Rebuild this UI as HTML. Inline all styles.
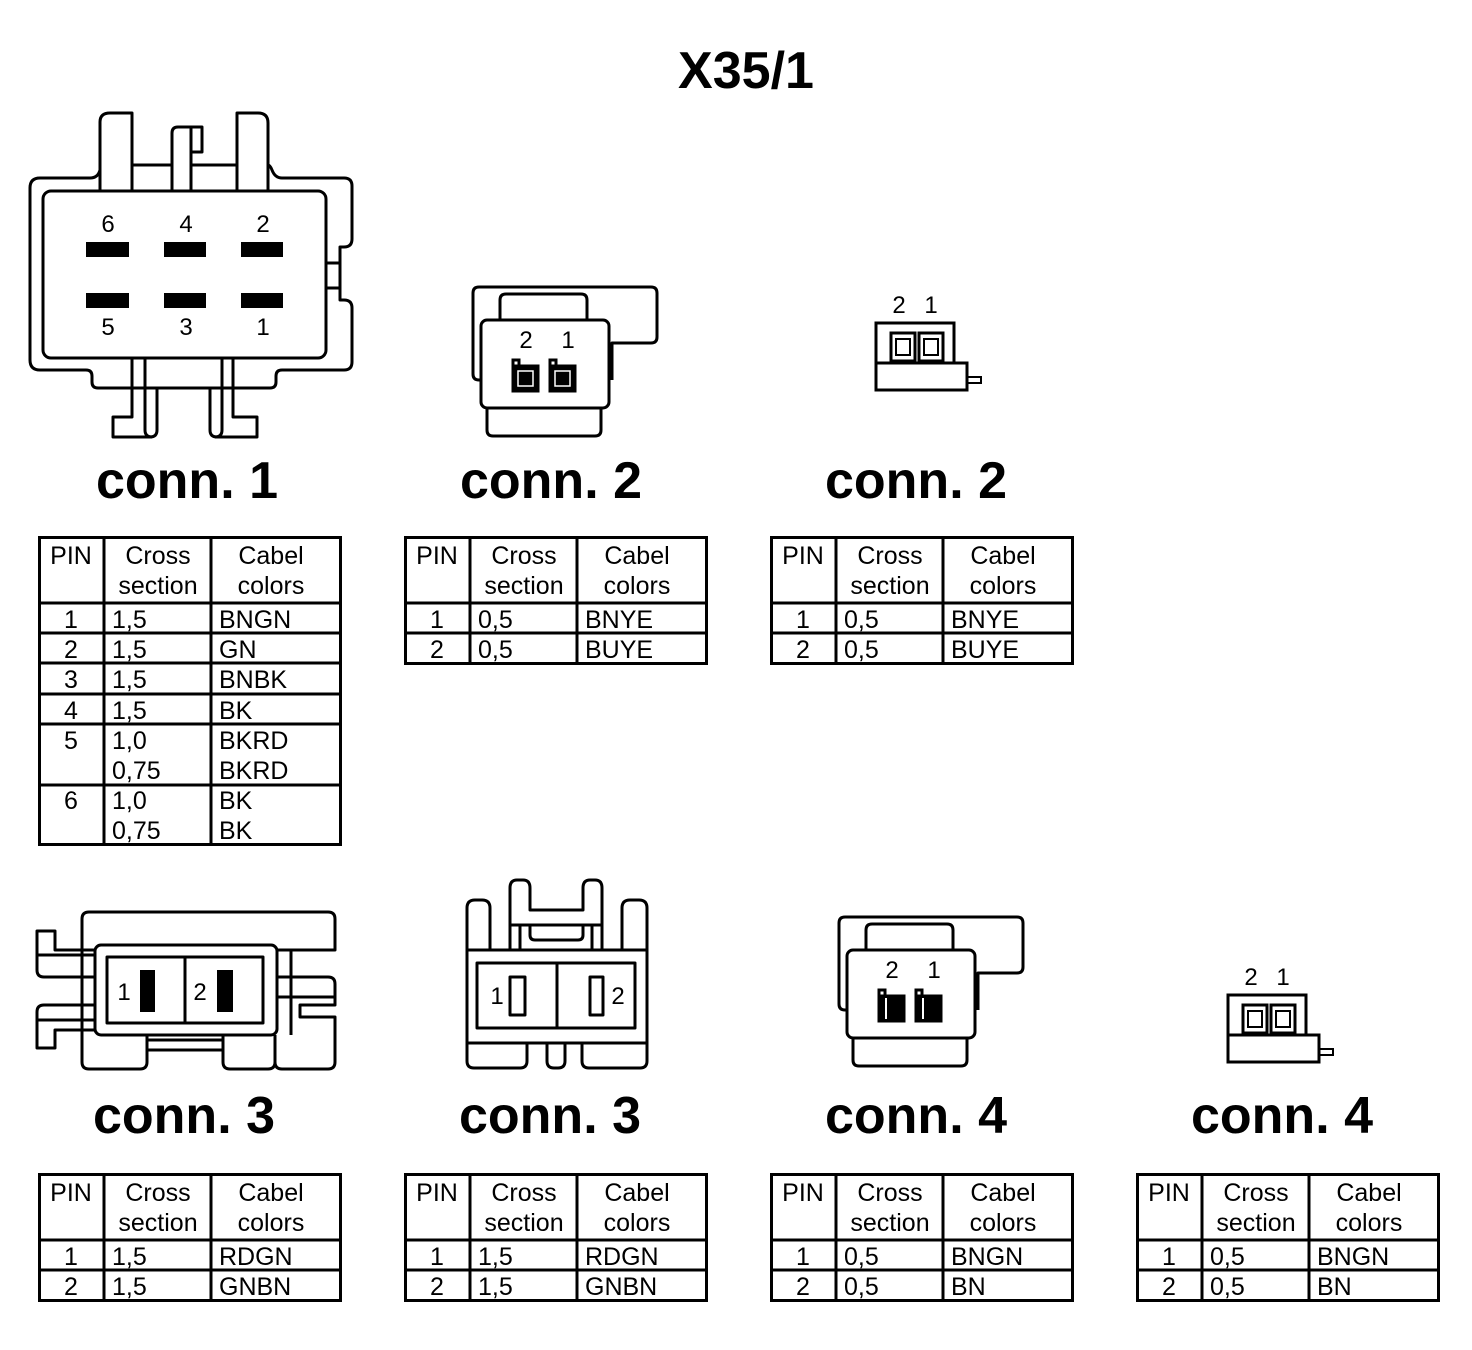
<!DOCTYPE html>
<html><head><meta charset="utf-8"><style>
html,body{margin:0;padding:0;background:#fff;}
svg{display:block;}
text{font-family:"Liberation Sans",Arial,sans-serif;fill:#000;}
.t{font-size:25px;}
.h{font-size:52px;font-weight:bold;}
.n{font-size:24px;}
</style></head><body>
<svg width="1472" height="1350" viewBox="0 0 1472 1350" xmlns="http://www.w3.org/2000/svg">
<defs>
<g id="tb">
<g fill="none" stroke="#000" stroke-width="3">
<rect x="1.5" y="1.5" width="301" height="126"/>
<path d="M66 0 V129 M173 0 V129 M0 67 H304 M0 97 H304"/>
</g>
<g class="t" text-anchor="middle"><text x="33" y="28">PIN</text><text x="120" y="28">Cross</text><text x="120" y="58">section</text><text x="233" y="28">Cabel</text><text x="233" y="58">colors</text>
<text x="33" y="92">1</text><text x="33" y="122">2</text></g>
</g>
</defs>
<rect width="1472" height="1350" fill="#fff"/>
<text x="746" y="88" class="h" text-anchor="middle">X35/1</text>

<!-- CONN 1 drawing -->
<g fill="none" stroke="#000" stroke-width="3" stroke-linejoin="round">
<path d="M100 170 Q98 178 90 178 L40 178 Q30 178 30 188 L30 360 Q30 370 40 370 L86 370 Q92 370 92 376 L92 382 Q92 388 98 388 L270 388 Q276 388 276 382 L276 376 Q276 370 282 370 L344 370 Q352 370 352 362 L352 308 Q352 300 344 300 L340 300 L340 247 L344 247 Q352 247 352 239 L352 186 Q352 178 344 178 L282 178 Q275 178 272 170 Q270 165 268 165"/>
<path d="M100 191 L100 122 Q100 113 110 113 L132 113 L132 191"/>
<path d="M237 191 L237 113 L258 113 Q268 113 268 123 L268 191"/>
<path d="M132 165 L172 165 M191 165 L237 165"/>
<path d="M172 191 L172 133 Q172 127 178 127 L202 127 L202 152 L191 152 L191 191 M191 127 L191 152"/>
<rect x="43" y="191" width="283" height="167" rx="8"/>
<path d="M326 263 L340 263 M326 288 L340 288"/>
<path d="M132 358 L132 417 L113 417 L113 437 L150 437 Q157 437 157 430 L157 388"/>
<path d="M145 358 L145 430 Q145 437 152 437"/>
<path d="M233 358 L233 417 L257 417 L257 437 L217 437 Q210 437 210 430 L210 388"/>
<path d="M222 358 L222 430 Q222 437 215 437"/>
</g>
<g fill="#000">
<rect x="86" y="242" width="43" height="15"/><rect x="164" y="242" width="42" height="15"/><rect x="241" y="242" width="42" height="15"/>
<rect x="86" y="293" width="43" height="15"/><rect x="164" y="293" width="42" height="15"/><rect x="241" y="293" width="42" height="15"/>
</g>
<g class="n" text-anchor="middle">
<text x="108" y="232">6</text><text x="186" y="232">4</text><text x="263" y="232">2</text>
<text x="108" y="335">5</text><text x="186" y="335">3</text><text x="263" y="335">1</text>
</g>
<text x="187" y="498" class="h" text-anchor="middle">conn. 1</text>

<!-- CONN 2 big drawing (and conn 4 translated) -->
<g id="c2">
<g fill="none" stroke="#000" stroke-width="3" stroke-linejoin="round">
<path d="M481 380 L479 380 Q473 380 473 374 L473 293 Q473 287 479 287 L651 287 Q657 287 657 293 L657 337 Q657 343 651 343 L612 343 L612 380"/>
<path d="M500 320 L500 300 Q500 294 506 294 L581 294 Q587 294 587 300 L587 320"/>
<rect x="481" y="320" width="128" height="88" rx="6"/>
<path d="M487 408 L487 430 Q487 436 493 436 L595 436 Q601 436 601 430 L601 408"/>
</g>
<g text-anchor="middle" class="n"><text x="526" y="348">2</text><text x="568" y="348">1</text></g>
</g>
<g fill="none" stroke="#000" stroke-width="3">
<path d="M513 366 L513 360 L519 360 L519 366"/><rect x="513" y="366" width="25" height="25" fill="#000"/>
<path d="M550 366 L550 360 L556 360 L556 366"/><rect x="550" y="366" width="25" height="25" fill="#000"/>
</g>
<g fill="none" stroke="#fff" stroke-width="1.5">
<rect x="518" y="371" width="15" height="15"/><rect x="555" y="371" width="15" height="15"/>
</g>
<text x="551" y="498" class="h" text-anchor="middle">conn. 2</text>

<use href="#c2" transform="translate(366,630)"/>
<g fill="none" stroke="#000" stroke-width="3">
<path d="M879 996 L879 990 L885 990 L885 996"/><rect x="879" y="996" width="25" height="25" fill="#000"/>
<path d="M916 996 L916 990 L922 990 L922 996"/><rect x="916" y="996" width="25" height="25" fill="#000"/>
</g>
<g stroke="#fff" stroke-width="2"><path d="M886 998 L886 1019 M923 998 L923 1019"/></g>
<text x="916" y="1133" class="h" text-anchor="middle">conn. 4</text>

<!-- small conn 2 -->
<g id="s2">
<g fill="none" stroke="#000" stroke-width="3">
<rect x="876" y="323" width="78" height="40"/>
<rect x="891" y="333" width="24" height="28"/><rect x="896" y="339" width="14" height="16" stroke-width="2"/>
<rect x="919" y="333" width="24" height="28"/><rect x="924" y="339" width="14" height="16" stroke-width="2"/>
<rect x="876" y="363" width="91" height="27"/>
<rect x="967" y="377" width="14" height="6" stroke-width="2"/>
</g>
<g text-anchor="middle" class="n"><text x="899" y="313">2</text><text x="931" y="313">1</text></g>
</g>
<text x="916" y="498" class="h" text-anchor="middle">conn. 2</text>
<use href="#s2" transform="translate(352,672)"/>
<text x="1282" y="1133" class="h" text-anchor="middle">conn. 4</text>

<!-- conn 3 left -->
<g fill="none" stroke="#000" stroke-width="3" stroke-linejoin="round">
<path d="M82 950 L82 919 Q82 912 89 912 L328 912 Q335 912 335 919 L335 950 L277 950"/>
<path d="M95 950 L55 950 L55 931 L37 931 L37 970 Q37 977 44 977 L95 977"/>
<path d="M37 955 L95 955 M82 950 L82 1035"/>
<path d="M95 1005 L44 1005 Q37 1005 37 1012 L37 1048 L55 1048 L55 1030 L95 1030"/>
<path d="M37 1020 L95 1020"/>
<rect x="95" y="945" width="182" height="90" rx="6"/>
<rect x="107" y="957" width="156" height="66"/>
<path d="M185 957 L185 1023"/>
<path d="M277 977 L328 977 Q335 977 335 984 L335 1005 L300 1005 L300 1017 L335 1017 L335 1060"/>
<path d="M277 997 L335 997 M291 950 L291 1035"/>
<path d="M82 1035 L82 1062 Q82 1069 89 1069 L140 1069 Q147 1069 147 1062 L147 1035"/>
<path d="M147 1040 L223 1040 M147 1050 L223 1050"/>
<path d="M223 1035 L223 1062 Q223 1069 230 1069 L268 1069 Q275 1069 275 1062 L275 1035"/>
<path d="M275 1040 L275 1062 Q275 1069 282 1069 L328 1069 Q335 1069 335 1062 L335 1035"/>
</g>
<g fill="#000"><rect x="140" y="970" width="15" height="42"/><rect x="217" y="970" width="16" height="42"/></g>
<g class="n" text-anchor="middle"><text x="124" y="1000">1</text><text x="200" y="1000">2</text></g>
<text x="184" y="1133" class="h" text-anchor="middle">conn. 3</text>

<!-- conn 3 right -->
<g fill="none" stroke="#000" stroke-width="3" stroke-linejoin="round">
<path d="M467 950 L467 908 Q467 900 475 900 L482 900 Q490 900 490 908 L490 950"/>
<path d="M622 950 L622 908 Q622 900 630 900 L639 900 Q647 900 647 908 L647 950"/>
<path d="M510 950 L510 888 Q510 880 517 880 L523 880 Q530 880 530 888 L530 910 L583 910 L583 888 Q583 880 590 880 L595 880 Q602 880 602 888 L602 950"/>
<path d="M510 925 L602 925 M520 925 L520 950 M592 925 L592 950"/>
<path d="M530 925 L530 935 Q530 940 535 940 L578 940 Q583 940 583 935 L583 925"/>
<rect x="467" y="950" width="180" height="93"/>
<rect x="477" y="963" width="158" height="65"/>
<path d="M557 963 L557 1028"/>
<rect x="510" y="977" width="15" height="38"/><rect x="590" y="977" width="13" height="38"/>
<path d="M467 1043 L467 1061 Q467 1068 474 1068 L520 1068 Q527 1068 527 1061 L527 1043"/>
<path d="M547 1043 L547 1061 Q547 1068 554 1068 L558 1068 Q565 1068 565 1061 L565 1043"/>
<path d="M582 1043 L582 1061 Q582 1068 589 1068 L640 1068 Q647 1068 647 1061 L647 1043"/>
</g>
<g class="n" text-anchor="middle"><text x="497" y="1004">1</text><text x="618" y="1004">2</text></g>
<text x="550" y="1133" class="h" text-anchor="middle">conn. 3</text>

<!-- TABLE 1 -->
<g transform="translate(38,536)">
<g fill="none" stroke="#000" stroke-width="3">
<rect x="1.5" y="1.5" width="301" height="307"/>
<path d="M66 0 V310 M173 0 V310 M0 67 H304 M0 97 H304 M0 127 H304 M0 158 H304 M0 188 H304 M0 249 H304"/>
</g>
<g class="t">
<g text-anchor="middle"><text x="33" y="28">PIN</text><text x="120" y="28">Cross</text><text x="120" y="58">section</text><text x="233" y="28">Cabel</text><text x="233" y="58">colors</text>
<text x="33" y="92">1</text><text x="33" y="122">2</text><text x="33" y="152">3</text><text x="33" y="183">4</text><text x="33" y="213">5</text><text x="33" y="273">6</text></g>
<text x="74" y="92">1,5</text><text x="74" y="122">1,5</text><text x="74" y="152">1,5</text><text x="74" y="183">1,5</text><text x="74" y="213">1,0</text><text x="74" y="243">0,75</text><text x="74" y="273">1,0</text><text x="74" y="303">0,75</text>
<text x="181" y="92">BNGN</text><text x="181" y="122">GN</text><text x="181" y="152">BNBK</text><text x="181" y="183">BK</text><text x="181" y="213">BKRD</text><text x="181" y="243">BKRD</text><text x="181" y="273">BK</text><text x="181" y="303">BK</text>
</g>
</g>

<g transform="translate(404,536)"><use href="#tb"/><g class="t"><text x="74" y="92">0,5</text><text x="74" y="122">0,5</text><text x="181" y="92">BNYE</text><text x="181" y="122">BUYE</text></g></g>
<g transform="translate(770,536)"><use href="#tb"/><g class="t"><text x="74" y="92">0,5</text><text x="74" y="122">0,5</text><text x="181" y="92">BNYE</text><text x="181" y="122">BUYE</text></g></g>
<g transform="translate(38,1173)"><use href="#tb"/><g class="t"><text x="74" y="92">1,5</text><text x="74" y="122">1,5</text><text x="181" y="92">RDGN</text><text x="181" y="122">GNBN</text></g></g>
<g transform="translate(404,1173)"><use href="#tb"/><g class="t"><text x="74" y="92">1,5</text><text x="74" y="122">1,5</text><text x="181" y="92">RDGN</text><text x="181" y="122">GNBN</text></g></g>
<g transform="translate(770,1173)"><use href="#tb"/><g class="t"><text x="74" y="92">0,5</text><text x="74" y="122">0,5</text><text x="181" y="92">BNGN</text><text x="181" y="122">BN</text></g></g>
<g transform="translate(1136,1173)"><use href="#tb"/><g class="t"><text x="74" y="92">0,5</text><text x="74" y="122">0,5</text><text x="181" y="92">BNGN</text><text x="181" y="122">BN</text></g></g>
</svg>
</body></html>
